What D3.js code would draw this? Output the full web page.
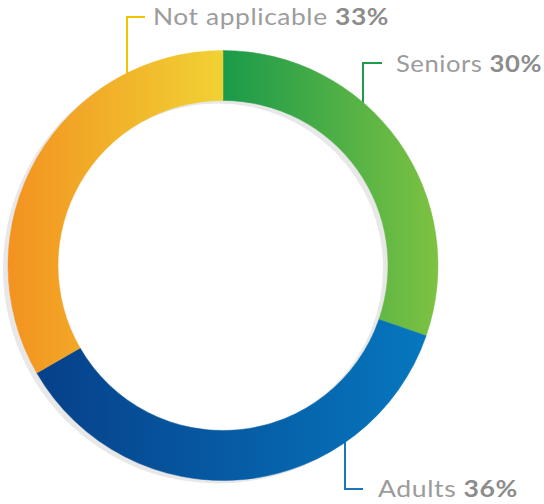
<!DOCTYPE html>
<html>
<head>
<meta charset="utf-8">
<script src="https://cdn.jsdelivr.net/npm/d3@7"></script>
<style>
  html, body { margin: 0; padding: 0; background: #fff; }
  svg { display: block; }
  text { font-family: Lato, "Open Sans", sans-serif; }
</style>
</head>
<body>
<svg id="chart" width="544" height="504"></svg>
<script>
const categories = ["Seniors", "Adults", "Not applicable"];
const values = [30, 36, 33];
const labels = ["30%", "36%", "33%"];

const gradientStops = [
  ["#1a9a4a", "#7dc242"],
  ["#06408a", "#0677be"],
  ["#f39220", "#f0d234"]
];
const lineColors = ["#1e9c4a", "#1b75bb", "#f5c400"];

const W = 544, H = 504;
const cx = 223, cy = 265.5;
const outerR = 215, innerR = 165;

const svg = d3.select("#chart");
const defs = svg.append("defs");

const pie = d3.pie().sort(null).value(d => d).startAngle(0).endAngle(2 * Math.PI);
const arcs = pie(values);
const arcGen = d3.arc().innerRadius(innerR).outerRadius(outerR);

arcs.forEach((a, i) => {
  const pts = [];
  for (let t = 0; t <= 60; t++) {
    const ang = a.startAngle + (a.endAngle - a.startAngle) * t / 60;
    pts.push(Math.sin(ang) * outerR, Math.sin(ang) * innerR);
  }
  const x0 = d3.min(pts), x1 = d3.max(pts);
  const g = defs.append("linearGradient")
    .attr("id", "grad" + i)
    .attr("gradientUnits", "userSpaceOnUse")
    .attr("x1", x0).attr("x2", x1).attr("y1", 0).attr("y2", 0);
  g.append("stop").attr("offset", "0%").attr("stop-color", gradientStops[i][0]);
  g.append("stop").attr("offset", "100%").attr("stop-color", gradientStops[i][1]);
});

const leaders = [
  { x: 363, y0: 110, y1: 63, x2: 382 },
  { x: 345, y0: 440, y1: 489, x2: 363 },
  { x: 127, y0: 80, y1: 17, x2: 145 }
];
leaders.forEach((l, i) => {
  svg.append("path")
    .attr("d", `M${l.x},${l.y0} L${l.x},${l.y1} L${l.x2},${l.y1}`)
    .attr("fill", "none")
    .attr("stroke", lineColors[i])
    .attr("stroke-width", 2);
});

svg.append("path")
  .attr("transform", `translate(${cx - 5},${cy + 3})`)
  .attr("d", d3.arc().innerRadius(innerR).outerRadius(outerR)({ startAngle: 0, endAngle: 2 * Math.PI }))
  .attr("fill", "#e8e8e8");

const g = svg.append("g").attr("transform", `translate(${cx},${cy})`);
g.selectAll("path.seg")
  .data(arcs)
  .join("path")
  .attr("class", "seg")
  .attr("d", arcGen)
  .attr("fill", (d, i) => `url(#grad${i})`)
  .attr("stroke", (d, i) => `url(#grad${i})`)
  .attr("stroke-width", 0.5);

const labelPos = [
  { x: 396, y: 72, w: 146 },
  { x: 378, y: 497, w: 140 },
  { x: 153, y: 25, w: 236 }
];
categories.forEach((c, i) => {
  const t = svg.append("text")
    .attr("x", labelPos[i].x)
    .attr("y", labelPos[i].y)
    .attr("font-size", 23)
    .attr("letter-spacing", 0.5)
    .attr("fill", "#9c9c9c")
    .attr("textLength", labelPos[i].w)
    .attr("lengthAdjust", "spacingAndGlyphs");
  t.append("tspan").text(c + " ");
  t.append("tspan").attr("font-weight", "bold").attr("fill", "#8c8c8c").text(labels[i]);
});
</script>
</body>
</html>
